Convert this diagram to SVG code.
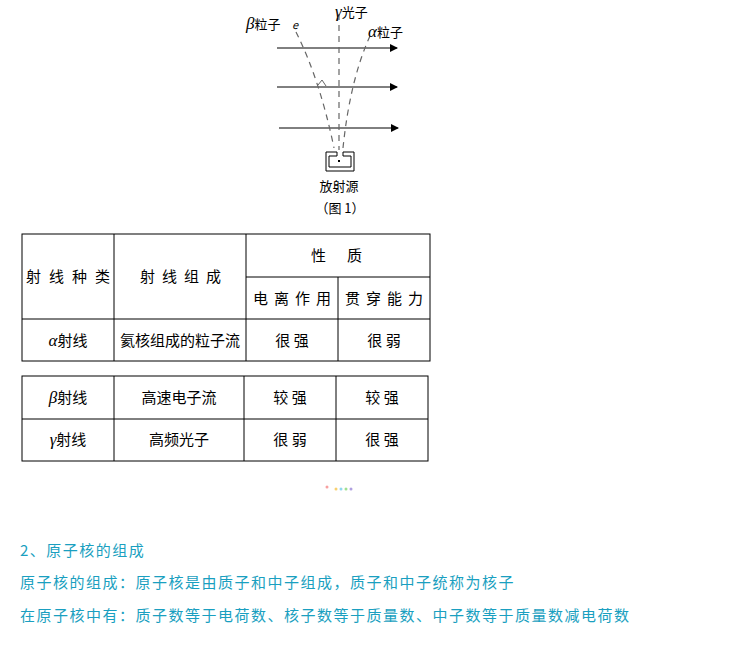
<svg xmlns="http://www.w3.org/2000/svg" width="753" height="662" viewBox="0 0 753 662">
<defs><marker id="ah" markerWidth="8" markerHeight="8" refX="7" refY="4" orient="auto" markerUnits="userSpaceOnUse"><path d="M0,0 L8,4 L0,8 Z" fill="#000"/></marker></defs>
<style>
text{font-family:"Noto Sans CJK SC","Liberation Sans",sans-serif;fill:#000}
.t{font-size:15px;text-anchor:middle}
.s{font-size:13px}
.b{font-size:15px;fill:#1a9fc0;letter-spacing:1.5px}
.g line,.g rect{stroke:#000;stroke-width:1;fill:none}
.d{stroke:#666;stroke-width:1.2;stroke-dasharray:6,5;fill:none}
.gr{font-style:italic;font-family:"Liberation Serif",serif;font-size:17px}
</style>
<rect width="753" height="662" fill="#fff"/>
<g id="connectors">
<line x1="277" y1="48" x2="397" y2="48" stroke="#000" marker-end="url(#ah)"/>
<line x1="277" y1="87" x2="397" y2="87" stroke="#000" marker-end="url(#ah)"/>
<line x1="279" y1="128" x2="398" y2="128" stroke="#000" marker-end="url(#ah)"/>
<line class="d" x1="339" y1="14" x2="339" y2="150"/>
<path class="d" d="M296,32 Q320,80 334,148"/>
<path class="d" d="M370,36 Q350,80 343,148"/>
<path d="M318,85 L322,80 L326,86" stroke="#666" fill="none"/>
</g>
<g id="source">
<path d="M326,152 H337 V156 H329 V167 H351 V156 H343 V152 H354 V171 H326 Z" fill="none" stroke="#000"/>
<rect x="338" y="160" width="2" height="2" fill="#000"/>
<text class="s" x="339" y="191" text-anchor="middle">放射源</text>
<text class="s" x="340" y="213" text-anchor="middle">（图 1）</text>
</g>
<g id="labels">
<text class="s" x="246" y="29"><tspan class="gr">β</tspan>粒子</text>
<text font-size="11" x="292" y="29" font-family="Liberation Serif" font-style="italic">e</text>
<text class="s" x="335" y="17"><tspan class="gr">γ</tspan>光子</text>
<text class="s" x="368" y="37"><tspan class="gr">α</tspan>粒子</text>
</g>
<g id="table1" class="g">
<rect x="22" y="234" width="408" height="127"/>
<line x1="114" y1="234" x2="114" y2="361"/>
<line x1="246" y1="234" x2="246" y2="361"/>
<line x1="338" y1="277" x2="338" y2="361"/>
<line x1="246" y1="277" x2="430" y2="277"/>
<line x1="22" y1="319" x2="430" y2="319"/>
<text class="t" x="72" y="282" letter-spacing="8">射线种类</text>
<text class="t" x="184" y="282" letter-spacing="7">射线组成</text>
<text class="t" x="338" y="261" letter-spacing="3">性　质</text>
<text class="t" x="295" y="304" letter-spacing="6">电离作用</text>
<text class="t" x="387" y="304" letter-spacing="6">贯穿能力</text>
<text class="t" x="68" y="346"><tspan class="gr">α</tspan>射线</text>
<text class="t" x="180" y="346">氦核组成的粒子流</text>
<text class="t" x="292" y="346">很 强</text>
<text class="t" x="384" y="346">很 弱</text>
</g>
<g id="table2" class="g">
<rect x="22" y="376" width="406" height="85"/>
<line x1="114" y1="376" x2="114" y2="461"/>
<line x1="244" y1="376" x2="244" y2="461"/>
<line x1="336" y1="376" x2="336" y2="461"/>
<line x1="22" y1="419" x2="428" y2="419"/>
<text class="t" x="68" y="403"><tspan class="gr">β</tspan>射线</text>
<text class="t" x="179" y="403">高速电子流</text>
<text class="t" x="290" y="403">较 强</text>
<text class="t" x="382" y="403">较 强</text>
<text class="t" x="68" y="445"><tspan class="gr">γ</tspan>射线</text>
<text class="t" x="179" y="445">高频光子</text>
<text class="t" x="290" y="445">很 弱</text>
<text class="t" x="382" y="445">很 强</text>
</g>
<g id="dots">
<circle cx="327" cy="487" r="1.5" fill="#f8a0a0"/>
<circle cx="336" cy="489" r="1.5" fill="#f8d070"/>
<circle cx="341" cy="489" r="1.5" fill="#90d8f0"/>
<circle cx="346" cy="489" r="1.5" fill="#a0e090"/>
<circle cx="351" cy="489" r="1.5" fill="#b0a0e0"/>
</g>
<g id="text">
<text class="b" x="20" y="556">2、原子核的组成</text>
<text class="b" x="20" y="588">原子核的组成：原子核是由质子和中子组成，质子和中子统称为核子</text>
<text class="b" x="20" y="621">在原子核中有：质子数等于电荷数、核子数等于质量数、中子数等于质量数减电荷数</text>
</g>
</svg>
